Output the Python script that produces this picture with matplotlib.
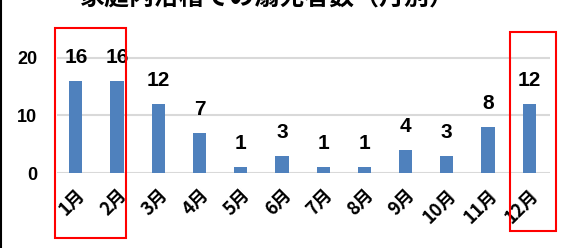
import matplotlib.pyplot as plt
from matplotlib.patches import Rectangle
from matplotlib.lines import Line2D

plt.rcParams['font.family'] = ['Noto Sans CJK JP', 'DejaVu Sans']

# data
months = ['1月', '2月', '3月', '4月', '5月', '6月', '7月', '8月', '9月', '10月', '11月', '12月']
counts = [16, 16, 12, 7, 1, 3, 1, 1, 4, 3, 8, 12]
title = '家庭内浴槽での溺死者数（月別）'

fig = plt.figure(figsize=(5.69, 2.48), dpi=100)
ax = fig.add_axes([0.100, 0.302, 0.867, 0.581])

x = list(range(len(months)))
ax.bar(x, counts, width=0.32, color='#4F81BD', zorder=3)
for xi, v in zip(x, counts):
    ax.annotate(str(v), (xi, v), xytext=(0, 10), textcoords='offset points',
                ha='center', va='bottom', fontsize=15, fontweight='bold',
                family=['Liberation Sans', 'DejaVu Sans'])

ax.set_xlim(-0.46, 11.51)
ax.set_ylim(0, 25)
ax.set_yticks([0, 10, 20])
ax.set_xticks(x)
ax.set_xticklabels(months, rotation=45, ha='right', rotation_mode='anchor',
                   fontsize=13, fontweight='bold')
ax.tick_params(axis='y', labelsize=13, length=0, pad=14)
ax.tick_params(axis='x', length=0, pad=9)
for lbl in ax.get_yticklabels():
    lbl.set_fontweight('bold')
    lbl.set_family(['Liberation Sans', 'DejaVu Sans'])
ax.grid(axis='y', color='#D9D9D9', linewidth=1.5, zorder=0)
for s in ax.spines.values():
    s.set_visible(False)

# title, cut off at the top edge like the source
fig.text(0.47, 0.978, title, ha='center', va='baseline', fontsize=18, fontweight='bold')

# left border line
fig.add_artist(Line2D([0.002, 0.002], [0, 1], transform=fig.transFigure, color='black', linewidth=1.5))

# red highlight boxes
fig.add_artist(Rectangle((55 / 569, 1 - 238 / 248), 71 / 569, 210 / 248, transform=fig.transFigure,
                         fill=False, edgecolor='red', linewidth=1.5))
fig.add_artist(Rectangle((510 / 569, 1 - 231 / 248), 46 / 569, 199 / 248, transform=fig.transFigure,
                         fill=False, edgecolor='red', linewidth=1.5))

fig.savefig('out.png', dpi=100)
